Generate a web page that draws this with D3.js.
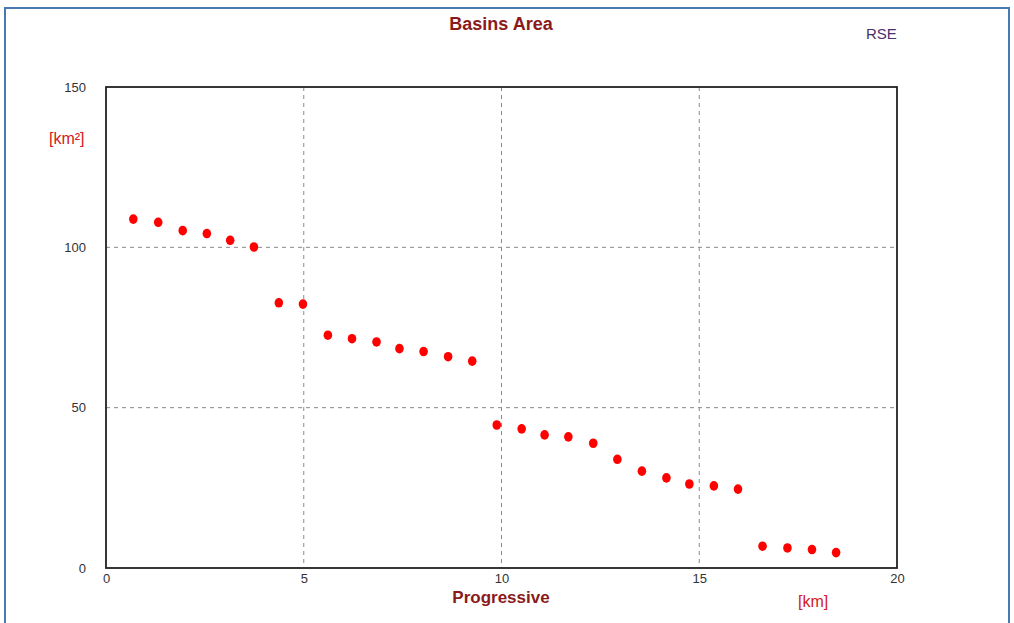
<!DOCTYPE html>
<html>
<head>
<meta charset="utf-8">
<script src="https://cdn.jsdelivr.net/npm/d3@7"></script>
<style>
  body { margin: 0; background: #fff; }
  svg { display: block; font-family: "Liberation Sans", Arial, sans-serif; }
</style>
</head>
<body>
<svg width="1014" height="623"></svg>
<script>
// progressive distance [km]
var progressive = [0.69, 1.32, 1.94, 2.55, 3.14, 3.74, 4.37, 4.98, 5.61, 6.22,
  6.84, 7.42, 8.03, 8.65, 9.26, 9.88, 10.51, 11.09, 11.69, 12.32,
  12.93, 13.55, 14.17, 14.75, 15.37, 15.98, 16.60, 17.23, 17.85, 18.46];
// basin area [km2]
var area = [108.8, 107.8, 105.2, 104.3, 102.2, 100.1, 82.7, 82.3, 72.6, 71.5,
  70.5, 68.4, 67.5, 65.9, 64.5, 44.6, 43.4, 41.5, 40.9, 38.9,
  33.9, 30.2, 28.1, 26.2, 25.6, 24.6, 6.8, 6.25, 5.75, 4.8];
var xTicks = [0, 5, 10, 15, 20];
var yTicks = [0, 50, 100, 150];

var svg = d3.select("svg");
var plotL = 106, plotR = 897, plotT = 87, plotB = 568;

var x = d3.scaleLinear().domain([0, 20]).range([plotL, plotR]);
var y = d3.scaleLinear().domain([0, 150]).range([plotB, plotT]);

// outer frame
svg.append("rect")
    .attr("x", 5).attr("y", 8)
    .attr("width", 1004).attr("height", 630)
    .attr("fill", "none")
    .attr("stroke", "#4a78b0")
    .attr("stroke-width", 2);

// grid
var grid = svg.append("g")
    .attr("stroke", "#8a8a8a")
    .attr("stroke-dasharray", "4,4");
grid.selectAll("line.gx")
  .data(xTicks.slice(1, -1))
  .enter().append("line")
    .attr("x1", function(d) { return x(d); })
    .attr("x2", function(d) { return x(d); })
    .attr("y1", plotT).attr("y2", plotB);
grid.selectAll("line.gy")
  .data(yTicks.slice(1, -1))
  .enter().append("line")
    .attr("y1", function(d) { return y(d); })
    .attr("y2", function(d) { return y(d); })
    .attr("x1", plotL).attr("x2", plotR);

// plot frame
svg.append("rect")
    .attr("x", plotL).attr("y", plotT)
    .attr("width", plotR - plotL).attr("height", plotB - plotT)
    .attr("fill", "none")
    .attr("stroke", "#222")
    .attr("stroke-width", 1.8);

// tick labels via d3 axes (no lines)
var xAxis = svg.append("g")
    .attr("transform", "translate(0," + (plotB + 3) + ")")
    .call(d3.axisBottom(x).tickValues(xTicks).tickSize(0).tickPadding(3));
var yAxis = svg.append("g")
    .attr("transform", "translate(" + (plotL - 20) + ",0)")
    .call(d3.axisLeft(y).tickValues(yTicks).tickSize(0).tickPadding(0));
[xAxis, yAxis].forEach(function(a) {
  a.select(".domain").remove();
  a.selectAll("text")
    .attr("font-family", "Liberation Sans, Arial, sans-serif")
    .attr("font-size", 13)
    .attr("fill", "#333");
});

// dots
svg.append("g")
  .selectAll("ellipse")
  .data(progressive)
  .enter().append("ellipse")
    .attr("cx", function(d) { return x(d); })
    .attr("cy", function(d, i) { return y(area[i]); })
    .attr("rx", 4.3)
    .attr("ry", 4.8)
    .attr("fill", "#ff0000");

// titles
svg.append("text")
    .attr("x", 501).attr("y", 30)
    .attr("text-anchor", "middle")
    .attr("font-size", 18).attr("font-weight", "bold")
    .attr("fill", "#8b1a1a")
    .text("Basins Area");
svg.append("text")
    .attr("x", 866).attr("y", 39)
    .attr("font-size", 15)
    .attr("fill", "#4b2e6e")
    .text("RSE");
svg.append("text")
    .attr("x", 49).attr("y", 144)
    .attr("font-size", 16)
    .attr("fill", "#d42020")
    .text("[km²]");
svg.append("text")
    .attr("x", 501).attr("y", 603)
    .attr("text-anchor", "middle")
    .attr("font-size", 17).attr("font-weight", "bold")
    .attr("fill", "#8b1a1a")
    .text("Progressive");
svg.append("text")
    .attr("x", 798).attr("y", 607)
    .attr("font-size", 16)
    .attr("fill", "#d42020")
    .text("[km]");
</script>
</body>
</html>
